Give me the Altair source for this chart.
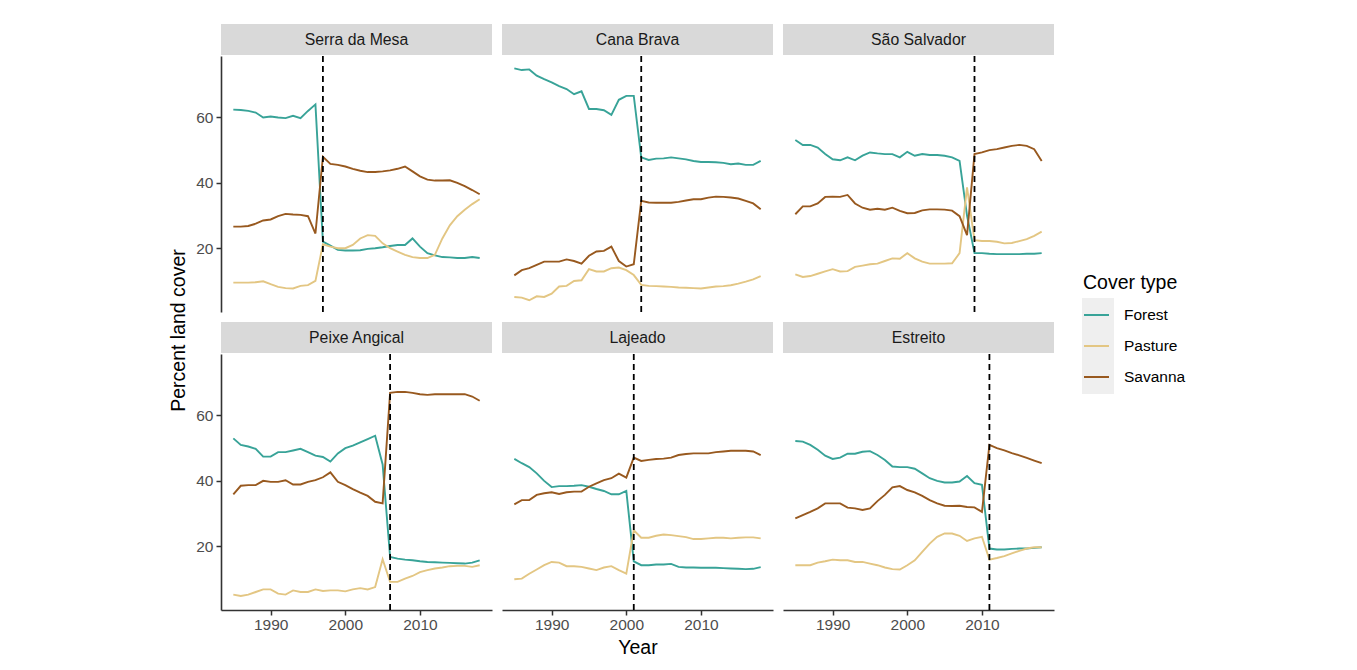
import altair as alt
import pandas as pd

FONT = "Liberation Sans"

years = list(range(1985, 2019))
sites = ["Serra da Mesa", "Cana Brava", "São Salvador", "Peixe Angical", "Lajeado", "Estreito"]
dam_years = [1997, 2002, 2009, 2006, 2001, 2011]
covers = ["Forest", "Pasture", "Savanna"]
cover_colors = ["#38A398", "#E3C683", "#98591F"]
bg_keys = ["bgForest", "bgPasture", "bgSavanna"]
x_ticks = [1990, 2000, 2010]
y_ticks = [20, 40, 60]

# ---- Serra da Mesa ----
serra_forest = [62.4, 62.3, 62.0, 61.5, 60.0, 60.3, 60.0, 59.8, 60.5, 59.8, 62.0, 64.0,
                22.0, 20.8, 19.5, 19.3, 19.3, 19.4, 19.8, 20.0, 20.3, 20.7, 21.0, 21.0, 23.0,
                20.5, 18.5, 17.8, 17.3, 17.2, 17.0, 17.0, 17.3, 17.0]
serra_pasture = [9.5, 9.5, 9.5, 9.6, 9.9, 9.0, 8.2, 7.8, 7.7, 8.5, 8.7, 10.0,
                 21.2, 20.5, 20.0, 20.0, 21.0, 23.0, 24.0, 23.8, 21.5, 20.0, 19.0, 18.0, 17.3,
                 17.0, 17.0, 18.0, 23.0, 27.0, 29.8, 31.8, 33.5, 35.0]
serra_savanna = [26.6, 26.6, 26.8, 27.5, 28.5, 28.8, 29.8, 30.5, 30.3, 30.2, 29.8, 24.5,
                 48.0, 45.8, 45.5, 45.0, 44.3, 43.7, 43.3, 43.3, 43.5, 43.8, 44.3, 45.0, 43.5,
                 42.0, 41.0, 40.7, 40.7, 40.8, 40.0, 39.0, 37.8, 36.5]

# ---- Cana Brava ----
cana_forest = [75.0, 74.5, 74.7, 72.8, 71.7, 70.7, 69.6, 68.7, 67.1, 68.0, 62.6, 62.6, 62.2,
               60.8, 65.4, 66.6, 66.6,
               47.8, 47.0, 47.4, 47.5, 47.8, 47.5, 47.2, 46.7, 46.4, 46.4, 46.3, 46.1, 45.7,
               45.9, 45.5, 45.5, 46.7]
cana_pasture = [5.1, 4.9, 4.1, 5.3, 5.1, 6.1, 8.3, 8.5, 10.0, 10.2, 13.6, 12.9, 12.9, 13.9,
                14.1, 13.3, 11.8,
                8.8, 8.5, 8.4, 8.3, 8.2, 8.0, 7.9, 7.8, 7.7, 8.0, 8.3, 8.4, 8.7, 9.2, 9.8,
                10.5, 11.5]
cana_savanna = [11.7, 13.3, 13.9, 14.9, 15.9, 15.9, 15.9, 16.6, 16.1, 15.3, 17.7, 19.0, 19.2,
                20.5, 16.1, 14.4, 15.1,
                34.5, 34.0, 33.9, 33.9, 33.9, 34.2, 34.6, 35.0, 35.0, 35.5, 35.8, 35.7, 35.5,
                35.2, 34.5, 33.7, 31.9]

# ---- São Salvador ----
sao_forest = [53.1, 51.6, 51.6, 50.8, 48.8, 47.2, 46.9, 47.8, 46.9, 48.3, 49.3, 49.0, 48.8,
              48.8, 47.8, 49.5, 48.3, 48.8, 48.5, 48.5, 48.3, 47.8, 46.7, 30.0,
              18.5, 18.5, 18.3, 18.2, 18.2, 18.2, 18.2, 18.3, 18.3, 18.5]
sao_pasture = [12.0, 11.2, 11.5, 12.2, 12.9, 13.6, 12.9, 13.0, 14.3, 14.7, 15.1, 15.3, 16.1,
               16.9, 16.8, 18.5, 16.9, 15.9, 15.3, 15.3, 15.3, 15.4, 18.5, 38.6,
               22.5, 22.2, 22.2, 22.0, 21.5, 21.6, 22.2, 22.8, 23.8, 25.1]
sao_savanna = [30.4, 32.8, 32.8, 33.7, 35.7, 35.8, 35.7, 36.3, 33.7, 32.4, 31.8, 32.1, 31.8,
               32.4, 31.4, 30.7, 30.8, 31.6, 31.9, 31.9, 31.8, 31.5, 29.8, 24.0,
               48.8, 49.3, 50.0, 50.3, 50.8, 51.3, 51.6, 51.3, 50.3, 46.7]

# ---- Peixe Angical ----
peixe_forest = [53.0, 51.0, 50.5, 49.8, 47.4, 47.4, 48.8, 48.8, 49.3, 49.8, 48.8, 47.7, 47.3,
                45.9, 48.4, 50.0, 50.8, 51.8, 52.8, 53.8, 45.0,
                16.7, 16.2, 15.9, 15.7, 15.4, 15.2, 15.1, 15.0, 14.9, 14.8, 14.7, 15.0, 15.7]
peixe_pasture = [5.2, 4.8, 5.2, 6.0, 6.8, 6.8, 5.5, 5.2, 6.5, 6.0, 6.0, 6.8, 6.3, 6.5, 6.5,
                 6.2, 6.8, 7.2, 6.8, 7.5, 16.0,
                 9.1, 9.1, 10.1, 10.9, 12.1, 12.7, 13.2, 13.5, 13.9, 14.0, 14.0, 13.7, 14.2]
peixe_savanna = [35.9, 38.5, 38.7, 38.7, 40.0, 39.7, 39.7, 40.2, 38.9, 38.9, 39.7, 40.2, 41.1,
                 42.6, 39.7, 38.7, 37.5, 36.4, 35.4, 33.6, 33.1,
                 66.9, 67.2, 67.2, 66.9, 66.5, 66.3, 66.5, 66.5, 66.5, 66.5, 66.5, 65.8, 64.5]

# ---- Lajeado ----
lajeado_forest = [46.7, 45.4, 44.2, 42.3, 40.0, 38.1, 38.4, 38.4, 38.5, 38.7, 38.2, 37.5, 36.9,
                  35.9, 35.9, 36.9,
                  15.4, 14.2, 14.2, 14.4, 14.4, 14.6, 13.7, 13.5, 13.5, 13.4, 13.4, 13.4, 13.3,
                  13.2, 13.1, 13.0, 13.1, 13.6]
lajeado_pasture = [9.9, 10.1, 11.6, 12.9, 14.2, 15.2, 15.0, 13.9, 13.9, 13.7, 13.2, 12.7, 13.5,
                   13.9, 12.7, 11.6,
                   24.9, 22.6, 22.6, 23.2, 23.6, 23.4, 23.1, 22.8, 22.2, 22.2, 22.4, 22.6, 22.6,
                   22.4, 22.6, 22.7, 22.7, 22.4]
lajeado_savanna = [32.8, 34.1, 34.1, 35.7, 36.2, 36.5, 36.0, 36.5, 36.7, 36.7, 38.2, 39.2, 40.2,
                   40.8, 42.2, 41.0,
                   47.1, 46.1, 46.4, 46.7, 46.8, 47.1, 47.9, 48.2, 48.4, 48.4, 48.4, 48.8, 49.0,
                   49.2, 49.2, 49.2, 49.0, 47.9]

# ---- Estreito ----
estreito_forest = [52.2, 52.0, 51.0, 49.5, 47.7, 46.7, 47.1, 48.3, 48.3, 48.9, 49.1, 47.9, 46.4,
                   44.4, 44.2, 44.2, 43.7, 42.3, 40.8, 40.0, 39.5, 39.5, 39.8, 41.5, 39.3, 38.8,
                   19.3, 19.0, 19.0, 19.2, 19.3, 19.3, 19.5, 19.7]
estreito_pasture = [14.2, 14.2, 14.2, 15.0, 15.4, 15.9, 15.7, 15.7, 15.2, 15.2, 14.7, 14.2, 13.5,
                    13.0, 12.9, 14.2, 15.7, 18.3, 20.8, 22.9, 23.9, 23.9, 23.2, 21.6, 22.4, 22.9,
                    15.9, 16.4, 17.0, 17.8, 18.6, 19.3, 19.7, 19.7]
estreito_savanna = [28.5, 29.5, 30.5, 31.6, 33.1, 33.1, 33.1, 31.8, 31.6, 31.1, 31.6, 33.8, 35.7,
                    38.0, 38.4, 37.2, 36.5, 35.4, 34.1, 33.1, 32.4, 32.3, 32.4, 32.0, 31.9, 30.5,
                    51.0, 50.0, 49.3, 48.5, 47.8, 47.0, 46.2, 45.4]

series = {
    "Serra da Mesa": [serra_forest, serra_pasture, serra_savanna],
    "Cana Brava": [cana_forest, cana_pasture, cana_savanna],
    "São Salvador": [sao_forest, sao_pasture, sao_savanna],
    "Peixe Angical": [peixe_forest, peixe_pasture, peixe_savanna],
    "Lajeado": [lajeado_forest, lajeado_pasture, lajeado_savanna],
    "Estreito": [estreito_forest, estreito_pasture, estreito_savanna],
}

rows = []
for site in sites:
    for cover, vals in zip(covers, series[site]):
        for yr, v in zip(years, vals):
            rows.append({"Site": site, "Cover": cover, "Year": yr, "Value": v})
df = pd.DataFrame(rows)
dam_df = pd.DataFrame({"Site": sites, "Dam": dam_years})

W, H, SH = 271, 256, 31
xscale = alt.Scale(domain=[1983.35, 2019.65], nice=False, zero=False)
yscale = alt.Scale(domain=[0.5, 78.8], nice=False, zero=False)

AXIS_STYLE = dict(
    domainColor="#333333", domainWidth=1.6, tickColor="#333333", tickWidth=1.5, tickSize=5,
    labelFont=FONT, labelFontSize=15.5, labelColor="#4D4D4D", grid=False,
    titleFont=FONT, titleFontSize=19.5, titleFontWeight="normal", titleColor="black",
)

LX, LY = 862, 250

stroke_legend = alt.Legend(
    title="Cover type", orient="none", legendX=LX, legendY=LY,
    titleFont=FONT, titleFontSize=19.5, titleFontWeight="normal", titleColor="black",
    titlePadding=8, labelFont=FONT, labelFontSize=15.5, labelColor="black",
    symbolType="stroke", symbolSize=625, symbolStrokeWidth=2, rowPadding=9, labelOffset=14,
    padding=0,
)
bg_legend = alt.Legend(
    title=None, orient="none", legendX=LX - 1, legendY=LY + 24,
    symbolType="square", symbolSize=1024, symbolStrokeWidth=0, symbolOpacity=1,
    rowPadding=0, labelExpr="''", labelFontSize=1, padding=0,
)


def x_axis(i):
    if i < 3:
        return None
    return alt.Axis(values=x_ticks, format="d", title="Year" if i == 4 else "",
                    labelPadding=2, titlePadding=6, **AXIS_STYLE)


def y_axis(i):
    if i % 3 != 0:
        return None
    return alt.Axis(values=y_ticks, title="", labelPadding=3, **AXIS_STYLE)


def strip(i):
    return alt.Chart(pd.DataFrame({"Site": [sites[i]]})).mark_text(
        font=FONT, fontSize=15.8, color="#1A1A1A"
    ).encode(text="Site:N").properties(
        width=W, height=SH, view=alt.ViewBackground(fill="#D9D9D9", stroke="transparent", strokeWidth=0)
    )


def plot(i):
    site = sites[i]
    xa, ya = x_axis(i), y_axis(i)
    base = alt.Chart(df).transform_filter(alt.datum.Site == site)
    lines = base.mark_line(strokeWidth=1.9).encode(
        x=alt.X("Year:Q", scale=xscale, axis=xa),
        y=alt.Y("Value:Q", scale=yscale, axis=ya),
        stroke=alt.Stroke("Cover:N", scale=alt.Scale(domain=covers, range=cover_colors),
                          legend=stroke_legend),
    )
    rule = alt.Chart(dam_df).transform_filter(alt.datum.Site == site).mark_rule(
        color="black", strokeDash=[6, 4], strokeWidth=1.8
    ).encode(x=alt.X("Dam:Q", scale=xscale, axis=xa))
    layers = [lines, rule]
    if i == 0:
        bg = base.transform_calculate(Key="'bg' + datum.Cover").mark_square(
            opacity=0, size=1
        ).encode(
            x=alt.X("Year:Q", scale=xscale, axis=xa),
            y=alt.Y("Value:Q", scale=yscale, axis=ya),
            fill=alt.Fill("Key:N", scale=alt.Scale(domain=bg_keys, range=["#EFEFEF"] * 3),
                          legend=bg_legend),
        )
        layers = [bg] + layers
    return alt.layer(*layers).properties(
        width=W, height=H, view=alt.ViewBackground(stroke="transparent", strokeWidth=0)
    )


cells = [alt.vconcat(strip(i), plot(i), spacing=0) for i in range(6)]
row1 = alt.hconcat(*cells[:3], spacing=10)
row2 = alt.hconcat(*cells[3:], spacing=10)

chart = alt.vconcat(row1, row2, spacing=9).properties(
    title=alt.TitleParams(
        text="Percent land cover", orient="left", anchor="middle", font=FONT, fontSize=19.5,
        fontWeight="normal", color="black", offset=6, dx=10
    ),
    padding={"left": 161, "top": 16, "right": 5, "bottom": 5},
).configure_view(stroke="transparent", strokeWidth=0).configure(background="white")

chart.save("out.html", embed_options={"renderer": "svg", "actions": False})
